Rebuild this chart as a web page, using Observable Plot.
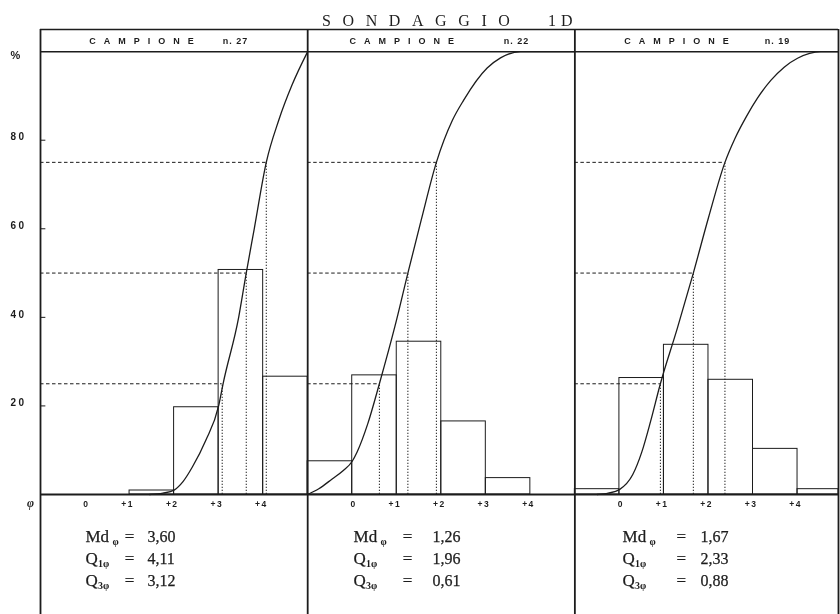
<!DOCTYPE html>
<html>
<head>
<meta charset="utf-8">
<script src="https://cdn.jsdelivr.net/npm/d3@7"></script>
<script src="https://cdn.jsdelivr.net/npm/@observablehq/plot@0.6"></script>
<style>
  body { margin: 0; background: #fff; overflow: hidden; }
  #title { position: relative; height: 28px; font-family: "Liberation Serif", "Times New Roman", serif; font-size: 16px; color: #1e1e1e; filter: grayscale(1); }
  #title span { position: absolute; top: 13px; line-height: 16px; white-space: nowrap; }
  #chart { filter: grayscale(1); }
</style>
</head>
<body>
<div id="title"></div>
<div id="chart"></div>
<script>
// ---------------- data ----------------
const titleWord = "SONDAGGIO";
const titleCode = "1D";
const headerWord = "CAMPIONE";
const panelIds = ["n. 27", "n. 22", "n. 19"];

// histogram: lower φ edge of each 1-φ class, % by weight
const binStart = [-1, 0, 1, 2, 3, 4];
const pct27 = [0, 0, 0.9, 19.7, 50.7, 26.6];
const pct22 = [7.5, 26.9, 34.5, 16.5, 3.7, 0];
const pct19 = [1.2, 26.3, 33.8, 25.9, 10.3, 1.2];

// cumulative curves (φ, cumulative %)
const cumPhi27 = [1.45, 1.75, 2.0, 2.2, 2.41, 2.71, 3.0, 3.1, 3.45, 3.62, 3.8, 4.07, 4.35, 4.65, 5.0];
const cumPct27 = [0, 0.3, 1.0, 2.9, 6.2, 12.2, 20, 25, 40, 50, 60, 75, 84.5, 92.5, 100];
const cumPhi22 = [-1, -0.75, -0.45, -0.2, 0, 0.11, 0.35, 0.61, 0.96, 1.25, 1.55, 1.89, 2.25, 2.5, 3.03, 3.33, 3.78, 5.0];
const cumPct22 = [0, 1.3, 3.5, 5.4, 7.5, 9.6, 16, 25, 38, 50, 62, 75, 84.5, 89, 96.3, 98.6, 100, 100];
const cumPhi19 = [-0.5, -0.25, 0, 0.3, 0.5, 0.7, 0.92, 1.3, 1.66, 2.0, 2.37, 2.6, 2.86, 3.1, 3.4, 3.7, 4.0, 4.52, 4.92];
const cumPct19 = [0, 0.3, 1.1, 4.5, 9.5, 16.5, 25, 37.5, 50, 62.5, 75, 80.5, 85.5, 89.5, 93.5, 96.5, 98.5, 100, 100];

// quartile read-offs (cumulative %, φ where the curve crosses it)
const quartilePct = [25, 50, 75];
const quartilePhi27 = [3.08, 3.62, 4.07];
const quartilePhi22 = [0.61, 1.25, 1.89];
const quartilePhi19 = [0.92, 1.66, 2.37];

// statistics printed under each panel
const statLabels = ["Md", "Q", "Q"];
const statSubs = ["φ", "1φ", "3φ"];
const stats27 = ["3,60", "4,11", "3,12"];
const stats22 = ["1,26", "1,96", "0,61"];
const stats19 = ["1,67", "2,33", "0,88"];

// axes
const xTickValues = [0, 1, 2, 3, 4];
const xTickLabels = ["0", "+1", "+2", "+3", "+4"];
const yTickValues = [20, 40, 60, 80];

// ---------------- layout (not data) ----------------
const SPAN = 6;            // each panel spans φ −1 … +5
const PHI0 = -1;
const panelEnd = [5, 5, 4.92]; // the scan cuts the last panel
const layout = {
  hdrWordX: [1.27, 1.11, 1.28],
  hdrNumX: [3.38, 3.69, 3.55],
  statLabelX: [0.01, 0.03, 0.07],
  statEqX: [1.0, 1.24, 1.39],
  statValX: [1.40, 1.80, 1.82],
  rowDy: [42.5, 64.5, 86.5]
};

// ---------------- build tables ----------------
const pctAll = [pct27, pct22, pct19];
const cumPhiAll = [cumPhi27, cumPhi22, cumPhi19];
const cumPctAll = [cumPct27, cumPct22, cumPct19];
const qPhiAll = [quartilePhi27, quartilePhi22, quartilePhi19];
const statsAll = [stats27, stats22, stats19];
const G = (i, phi) => phi + SPAN * i; // φ in panel i -> shared x

const bars = panelIds.flatMap((id, i) =>
  binStart.map((b, j) => ({ x1: G(i, b), x2: G(i, Math.min(b + 1, panelEnd[i])), pct: pctAll[i][j] }))
    .filter(d => d.pct > 0));
const curves = panelIds.flatMap((id, i) =>
  cumPhiAll[i].map((p, j) => ({ panel: id, x: G(i, p), pct: cumPctAll[i][j] })));
const quart = panelIds.flatMap((id, i) =>
  quartilePct.map((q, j) => ({ x0: G(i, PHI0), x: G(i, qPhiAll[i][j]), pct: q })));
const dividers = [G(0, PHI0), G(1, PHI0), G(2, PHI0), G(2, panelEnd[2])];
const xTicks = panelIds.flatMap((id, i) => xTickValues.map((v, j) => ({ x: G(i, v), label: xTickLabels[j] })));
const hdr = panelIds.map((id, i) => ({ xw: G(i, layout.hdrWordX[i]), xn: G(i, layout.hdrNumX[i]), id }));

const stat = panelIds.flatMap((id, i) => statLabels.map((l, r) => ({
  row: r, label: l, sub: statSubs[r], value: statsAll[i][r],
  xl: G(i, layout.statLabelX[i]), xe: G(i, layout.statEqX[i]), xv: G(i, layout.statValX[i])
})));

// ---------------- title ----------------
const title = document.getElementById("title");
title.innerHTML = `<span style="left:322px;letter-spacing:11.6px">${titleWord}</span><span style="left:548px;letter-spacing:5px">${titleCode}</span>`;

// ---------------- chart ----------------
const ink = "#1c1c1c";
const serif = "Liberation Serif, Times New Roman, serif";
const sans = "Liberation Sans, Arial, sans-serif";

const statMarks = layout.rowDy.flatMap((dy, r) => {
  const rows = stat.filter(d => d.row === r);
  return [
    Plot.text(rows, { x: "xl", y: 0, dy, text: "label", textAnchor: "start", fontFamily: serif, fontSize: 17, fill: ink, stroke: ink, strokeWidth: 0.25 }),
    Plot.text(rows, { x: "xl", y: 0, dy: dy + 5, dx: r === 0 ? 27 : 12.5, text: "sub", textAnchor: "start", fontFamily: serif, fontSize: 10, fontWeight: "bold", fill: ink }),
    Plot.text(rows, { x: "xe", y: 0, dy, text: () => "=", fontFamily: serif, fontSize: 17, fill: ink, stroke: ink, strokeWidth: 0.25 }),
    Plot.text(rows, { x: "xv", y: 0, dy, text: "value", textAnchor: "start", fontFamily: serif, fontSize: 16, fill: ink, stroke: ink, strokeWidth: 0.25 })
  ];
});

const chart = Plot.plot({
  width: 840,
  height: 586,
  marginLeft: 40,
  marginRight: 2,
  marginTop: 1,
  marginBottom: 0,
  style: { fontFamily: sans, background: "#fff", color: ink },
  x: { domain: [PHI0, G(2, panelEnd[2])], axis: null },
  y: { domain: [-27.1, 105], axis: null },
  marks: [
    // histograms
    Plot.rect(bars, { x1: "x1", x2: "x2", y1: 0, y2: "pct", fill: "none", stroke: ink, strokeWidth: 1 }),
    // quartile guides
    Plot.ruleY(quart, { y: "pct", x1: "x0", x2: "x", stroke: ink, strokeWidth: 1, strokeDasharray: "3.5,2.5" }),
    Plot.ruleX(quart, { x: "x", y1: 0, y2: "pct", stroke: ink, strokeWidth: 1, strokeDasharray: "1.3,1.7" }),
    // cumulative curves
    Plot.line(curves, { x: "x", y: "pct", z: "panel", curve: "monotone-x", stroke: ink, strokeWidth: 1.3 }),
    // frame
    Plot.ruleX(dividers, { stroke: ink, strokeWidth: 1.8 }),
    Plot.ruleY([105, 100], { stroke: ink, strokeWidth: 1.5 }),
    Plot.ruleY([0], { stroke: ink, strokeWidth: 2 }),
    // y ticks and labels (panel 1 only)
    Plot.ruleY(yTickValues, { x1: PHI0, x2: PHI0 + 0.12, stroke: ink, strokeWidth: 1 }),
    Plot.text(yTickValues, { x: PHI0, y: d => d, dx: -22, dy: -3, text: d => String(d), fontSize: 10, fontWeight: "bold", fill: ink }),
    Plot.text(["%"], { x: PHI0, y: 100, dx: -25, dy: 4, text: d => d, fontSize: 11, fontWeight: "bold", fill: ink }),
    Plot.text(["φ"], { x: PHI0, y: 0, dx: -10, dy: 9, text: d => d, fontFamily: serif, fontStyle: "italic", fontSize: 12, fontWeight: "bold", fill: ink }),
    // x tick labels
    Plot.text(xTicks, { x: "x", y: 0, dy: 9.5, dx: 4.5, text: "label", textAnchor: "end", fontSize: 8.5, fontWeight: "bold", fill: ink }),
    // header band
    Plot.text(hdr, { x: "xw", y: 102.3, dx: 4, text: () => headerWord, fontSize: 9, fontWeight: "bold", fill: ink }),
    Plot.text(hdr, { x: "xn", y: 102.3, text: "id", fontSize: 9, fontWeight: "bold", fill: ink }),
    // statistics
    ...statMarks
  ]
});

// letter spacing of the lettering (typewriter / stencil look)
const spacing = new Map([[headerWord, 8], ...panelIds.map(d => [d, 1]), ...yTickValues.map(d => [String(d), 2.5]), ...xTickLabels.map(d => [d, 1.5])]);
d3.select(chart).selectAll("text").each(function () {
  const s = spacing.get(this.textContent);
  if (s != null) this.style.letterSpacing = s + "px";
});
document.getElementById("chart").appendChild(chart);
</script>
</body>
</html>
